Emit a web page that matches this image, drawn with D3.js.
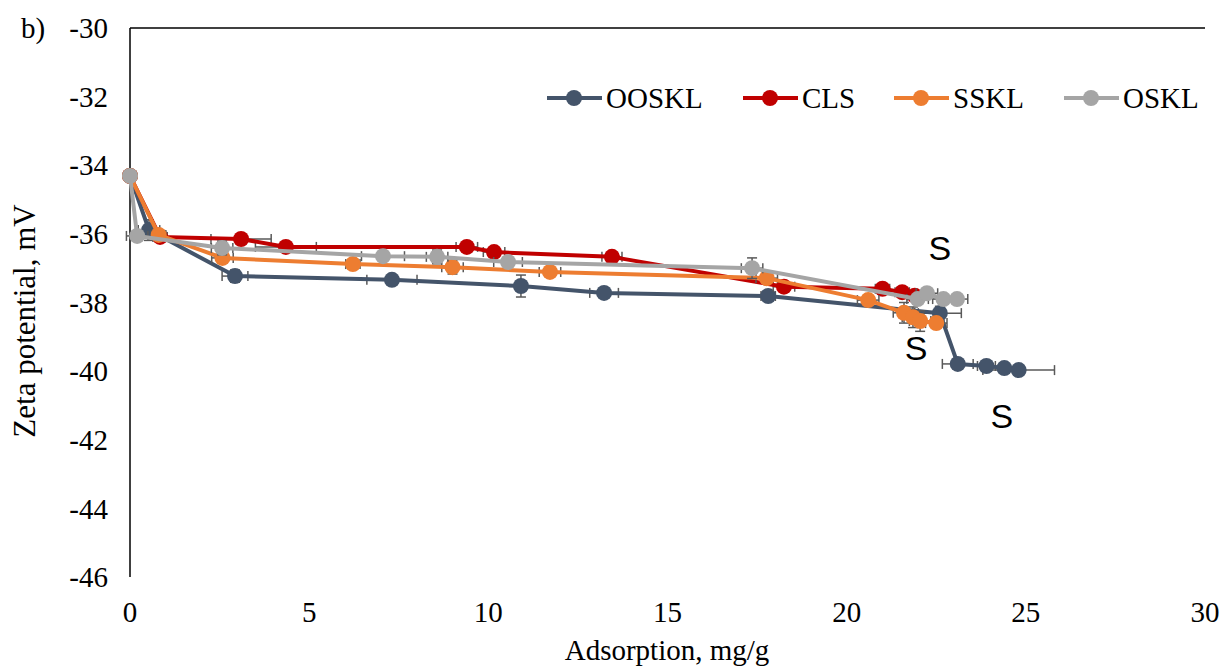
<!DOCTYPE html>
<html><head><meta charset="utf-8">
<script src="https://cdn.jsdelivr.net/npm/d3@7"></script>
<style>body{margin:0;background:#fff;} svg{display:block;}</style>
</head><body>
<svg id="c" width="1225" height="666"></svg>
<script>
// ---- data ----
const seriesNames = ["OOSKL", "CLS", "SSKL", "OSKL"];
const seriesColors = ["#44546A", "#C00000", "#ED7D31", "#A5A5A5"];

const oosklX = [0, 0.53, 2.93, 7.31, 10.91, 13.23, 17.81, 22.6, 23.1, 23.9, 24.4, 24.8];
const oosklY = [-34.31, -35.89, -37.23, -37.34, -37.52, -37.72, -37.81, -38.31, -39.79, -39.85, -39.91, -39.97];
const oosklXErr = [0, 0.3, 0.36, 0.7, 0.1, 0.4, 0.2, 0.6, 0.43, 0.25, 0.1, 1.0];
const oosklYErr = [0, 0.3, 0.18, 0.1, 0.32, 0.05, 0.15, 0.2, 0.15, 0.15, 0.1, 0.1];

const clsX = [0, 0.84, 3.1, 4.35, 9.4, 10.16, 13.45, 18.25, 21.0, 21.55, 21.9];
const clsY = [-34.31, -36.09, -36.15, -36.38, -36.38, -36.53, -36.67, -37.54, -37.6, -37.7, -37.8];
const clsXErr = [0, 0.2, 0.84, 0.85, 0.3, 0.3, 0.28, 0.3, 0.2, 0.2, 0.2];
const clsYErr = [0, 0.1, 0.1, 0.1, 0.1, 0.1, 0.1, 0.1, 0.1, 0.1, 0.1];

const ssklX = [0, 0.8, 2.58, 6.22, 9.0, 11.72, 17.77, 20.6, 21.6, 21.85, 22.05, 22.5];
const ssklY = [-34.31, -36.03, -36.7, -36.88, -36.97, -37.11, -37.29, -37.93, -38.3, -38.43, -38.54, -38.6];
const ssklXErr = [0, 0.2, 0.3, 0.2, 0.3, 0.3, 0.3, 0.3, 0.3, 0.3, 0.3, 0.3];
const ssklYErr = [0, 0.1, 0.1, 0.1, 0.2, 0.1, 0.1, 0.1, 0.3, 0.3, 0.3, 0.1];

const osklX = [0, 0.2, 2.57, 7.06, 8.57, 10.55, 17.36, 21.98, 22.24, 22.7, 23.08];
const osklY = [-34.31, -36.06, -36.41, -36.65, -36.67, -36.82, -37.0, -37.9, -37.73, -37.9, -37.9];
const osklXErr = [0, 0.3, 0.3, 0.6, 0.3, 0.4, 0.3, 0.3, 0.3, 0.3, 0.3];
const osklYErr = [0, 0.1, 0.2, 0.1, 0.2, 0.1, 0.3, 0.1, 0.1, 0.1, 0.1];

const xTicks = [0, 5, 10, 15, 20, 25, 30];
const yTicks = [-30, -32, -34, -36, -38, -40, -42, -44, -46];
const sLabels = [{x: 22.6, y: -36.41}, {x: 21.94, y: -39.33}, {x: 24.33, y: -41.31}];

// ---- layout ----
const svg = d3.select("#c");
const x = d3.scaleLinear().domain([0, 30]).range([130, 1205]);
const y = d3.scaleLinear().domain([-30, -46]).range([28, 577]);
const serif = "'Liberation Serif', 'Times New Roman', serif";

// axes lines
svg.append("line").attr("x1", x(0)).attr("x2", x(0)).attr("y1", y(-30)).attr("y2", y(-46))
  .attr("stroke", "#000").attr("stroke-width", 1.5);
svg.append("line").attr("x1", x(0)).attr("x2", x(30)).attr("y1", y(-30)).attr("y2", y(-30))
  .attr("stroke", "#000").attr("stroke-width", 1.5);

// tick labels
svg.append("g").selectAll("text").data(yTicks).join("text")
  .attr("x", 108).attr("y", d => y(d)).attr("dy", "0.35em")
  .attr("text-anchor", "end").attr("font-family", serif).attr("font-size", 29)
  .text(d => d);
svg.append("g").selectAll("text").data(xTicks).join("text")
  .attr("x", d => x(d)).attr("y", 612).attr("dy", "0.35em")
  .attr("text-anchor", "middle").attr("font-family", serif).attr("font-size", 29)
  .text(d => d);

// axis titles
svg.append("text").attr("x", 667).attr("y", 650).attr("dy", "0.35em").attr("text-anchor", "middle")
  .attr("font-family", serif).attr("font-size", 29).text("Adsorption, mg/g");
svg.append("text").attr("transform", "translate(24,321) rotate(-90)").attr("dy", "0.35em")
  .attr("text-anchor", "middle").attr("font-family", serif).attr("font-size", 31).text("Zeta potential, mV");
svg.append("text").attr("x", 21).attr("y", 28).attr("dy", "0.35em")
  .attr("font-family", serif).attr("font-size", 29).text("b)");

// series
const allSeries = [
  {xs: oosklX, ys: oosklY, xe: oosklXErr, ye: oosklYErr},
  {xs: clsX, ys: clsY, xe: clsXErr, ye: clsYErr},
  {xs: ssklX, ys: ssklY, xe: ssklXErr, ye: ssklYErr},
  {xs: osklX, ys: osklY, xe: osklXErr, ye: osklYErr}
];
const line = d3.line().x(d => x(d[0])).y(d => y(d[1]));
const errColor = "#595959", cap = 5;

allSeries.forEach((s, i) => {
  const pts = s.xs.map((v, k) => [v, s.ys[k], s.xe[k], s.ye[k]]);
  const g = svg.append("g");
  const eb = g.append("g").attr("stroke", errColor).attr("stroke-width", 1.5).attr("fill", "none");
  pts.forEach(p => {
    if (p[2] > 0) {
      const x1 = x(p[0] - p[2]), x2 = x(p[0] + p[2]), yy = y(p[1]);
      eb.append("line").attr("x1", x1).attr("x2", x2).attr("y1", yy).attr("y2", yy);
      eb.append("line").attr("x1", x1).attr("x2", x1).attr("y1", yy - cap).attr("y2", yy + cap);
      eb.append("line").attr("x1", x2).attr("x2", x2).attr("y1", yy - cap).attr("y2", yy + cap);
    }
    if (p[3] > 0) {
      const y1 = y(p[1] + p[3]), y2 = y(p[1] - p[3]), xx = x(p[0]);
      eb.append("line").attr("x1", xx).attr("x2", xx).attr("y1", y1).attr("y2", y2);
      eb.append("line").attr("x1", xx - cap).attr("x2", xx + cap).attr("y1", y1).attr("y2", y1);
      eb.append("line").attr("x1", xx - cap).attr("x2", xx + cap).attr("y1", y2).attr("y2", y2);
    }
  });
  g.append("path").datum(pts).attr("d", line).attr("fill", "none")
    .attr("stroke", seriesColors[i]).attr("stroke-width", 4).attr("stroke-linejoin", "round");
  g.selectAll("circle").data(pts).join("circle")
    .attr("cx", d => x(d[0])).attr("cy", d => y(d[1])).attr("r", 8)
    .attr("fill", seriesColors[i]);
});

// S labels
svg.append("g").selectAll("text").data(sLabels).join("text")
  .attr("x", d => x(d.x)).attr("y", d => y(d.y)).attr("dy", "0.35em").attr("text-anchor", "middle")
  .attr("font-family", "'Liberation Sans', Arial, sans-serif").attr("font-size", 34).text("S");

// legend
const legX = [547, 743, 894, 1064];
const legY = 98;
const leg = svg.append("g");
seriesNames.forEach((n, i) => {
  const gx = legX[i];
  leg.append("line").attr("x1", gx).attr("x2", gx + 55).attr("y1", legY).attr("y2", legY)
    .attr("stroke", seriesColors[i]).attr("stroke-width", 4);
  leg.append("circle").attr("cx", gx + 27).attr("cy", legY).attr("r", 8).attr("fill", seriesColors[i]);
  leg.append("text").attr("x", gx + 59).attr("y", legY).attr("dy", "0.35em")
    .attr("font-family", serif).attr("font-size", 29).text(n);
});
</script>
</body></html>
